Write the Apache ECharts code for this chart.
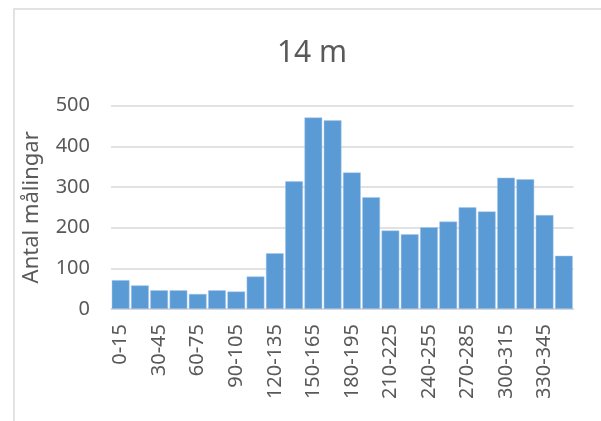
<!DOCTYPE html>
<html>
<head>
<meta charset="utf-8">
<script src="https://cdn.jsdelivr.net/npm/echarts@6/dist/echarts.min.js"></script>
<style>html,body{margin:0;padding:0;background:#fff;}#c{width:601px;height:421px;}</style>
</head>
<body>
<div id="c"></div>
<script>
var categories = ['0-15','15-30','30-45','45-60','60-75','75-90','90-105','105-120','120-135','135-150','150-165','165-180','180-195','195-210','210-225','225-240','240-255','255-270','270-285','285-300','300-315','315-330','330-345','345-360'];
var values = [71, 58, 46, 46, 37, 46, 43, 80, 137, 314, 471, 464, 336, 275, 193, 184, 201, 215, 250, 240, 323, 319, 231, 131];
var titleText = '14 m';
var yName = 'Antal målingar';

var chart = echarts.init(document.getElementById('c'), null, {renderer: 'canvas'});
chart.setOption({
  animation: false,
  backgroundColor: '#fff',
  graphic: [{
    type: 'rect', left: 11.5, top: 6.5, shape: {width: 620, height: 440},
    style: {fill: 'none', stroke: '#d9d9d9', lineWidth: 1.5}, silent: true
  }],
  title: {
    text: titleText, left: 307, top: 33, textAlign: 'center',
    textStyle: {fontFamily: 'Noto Sans', fontSize: 30, fontWeight: 'normal', color: '#595959'}
  },
  grid: {left: 111, right: 27.5, top: 105.7, bottom: 112, containLabel: false},
  xAxis: {
    type: 'category', data: categories,
    axisTick: {show: false},
    axisLine: {lineStyle: {color: '#d9d9d9', width: 1.5}},
    axisLabel: {interval: 1, rotate: 90, margin: 15, color: '#595959', fontFamily: 'Noto Sans', fontSize: 20}
  },
  yAxis: {
    type: 'value', min: 0, max: 500, interval: 100,
    name: yName, nameLocation: 'middle', nameGap: 68, nameRotate: 90,
    nameTextStyle: {fontFamily: 'Noto Sans', fontSize: 22, color: '#595959'},
    axisLine: {show: false}, axisTick: {show: false},
    axisLabel: {margin: 21, color: '#595959', fontFamily: 'Noto Sans', fontSize: 20},
    splitLine: {lineStyle: {color: '#d9d9d9', width: 1.5}}
  },
  series: [{
    type: 'bar', data: values, barCategoryGap: '8%',
    itemStyle: {color: '#5b9bd5', borderColor: '#a9c9ea', borderWidth: 0.5}
  }]
});
</script>
</body>
</html>
